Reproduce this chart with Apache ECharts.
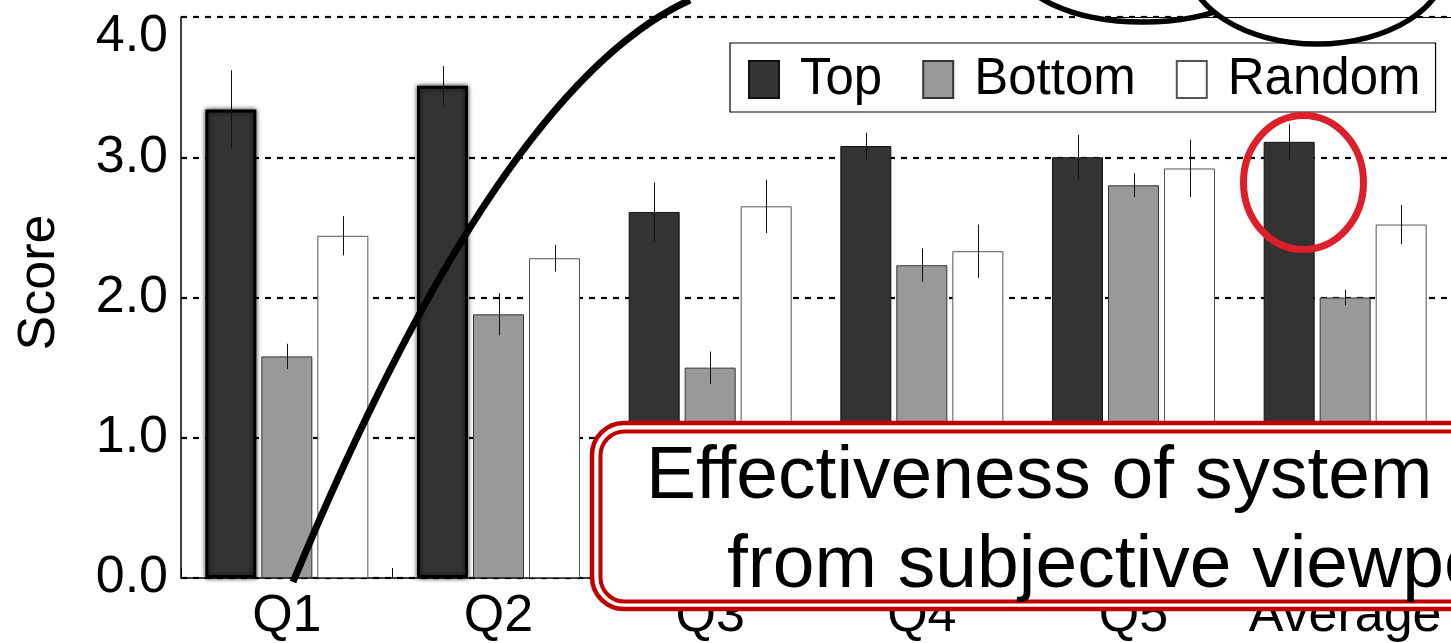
<!DOCTYPE html>
<html>
<head>
<meta charset="utf-8">
<script src="https://cdn.jsdelivr.net/npm/echarts@6/dist/echarts.min.js"></script>
<style>
  html, body { margin: 0; padding: 0; background: #fff; }
  #chart { width: 1451px; height: 643px; }
</style>
</head>
<body>
<div id="chart"></div>
<script>
// Questionnaire scores per question, three groups, with error bars
const categories = ['Q1', 'Q2', 'Q3', 'Q4', 'Q5', 'Average'];
const seriesNames = ['Top', 'Bottom', 'Random'];
const topScores    = [3.34, 3.51, 2.61, 3.08, 3.00, 3.11];
const topErr       = [0.28, 0.14, 0.21, 0.095, 0.16, 0.125];
const bottomScores = [1.58, 1.88, 1.50, 2.23, 2.80, 2.00];
const bottomErr    = [0.09, 0.15, 0.115, 0.12, 0.085, 0.056];
const randomScores = [2.44, 2.28, 2.65, 2.33, 2.92, 2.52];
const randomErr    = [0.14, 0.095, 0.19, 0.19, 0.205, 0.14];
const yTicks = [0, 1, 2, 3, 4];
const boxLines = ['Effectiveness of system', 'from subjective viewpoints'];

const FONT = '"Liberation Sans", Arial, sans-serif';
const BAR_W = 51;
const BAR_SPACING = 56;           // centre-to-centre distance of bars in a group
const BAR_GAP_PCT = ((BAR_SPACING - BAR_W) / BAR_W * 100) + '%';
const HALO_BARS = [0, 1];         // Top bars drawn with a glowing outline

const chart = echarts.init(document.getElementById('chart'), null, { renderer: 'canvas' });

function barSeries(name, values, color, border, haloIdx) {
  return {
    name: name,
    type: 'bar',
    barWidth: BAR_W,
    barGap: BAR_GAP_PCT,
    itemStyle: { color: color, borderColor: border, borderWidth: 1 },
    data: values.map((v, i) => (haloIdx && haloIdx.indexOf(i) >= 0)
      ? { value: v, itemStyle: { borderColor: '#000', borderWidth: 3, shadowBlur: 5, shadowColor: 'rgba(0,0,0,0.75)' } }
      : v),
    z: 2
  };
}

function errSeries(values, errs, slot) {
  return {
    type: 'custom',
    silent: true,
    z: 3,
    data: values.map((v, i) => [i, v, errs[i]]),
    renderItem: function (params, api) {
      const c = api.value(0), v = api.value(1), e = api.value(2);
      const hi = api.coord([c, v + e]);
      const lo = api.coord([c, v - e]);
      const x = Math.round(hi[0] + slot * BAR_SPACING) + 0.5;
      return {
        type: 'line',
        shape: { x1: x, y1: hi[1], x2: x, y2: lo[1] },
        style: { stroke: '#111', lineWidth: 1 }
      };
    }
  };
}

const option = {
  backgroundColor: '#fff',
  animation: false,
  textStyle: { fontFamily: FONT },
  grid: { left: 181, top: 17, width: 1282.5, height: 562, containLabel: false },
  legend: {
    data: seriesNames,
    left: 730, top: 43,
    orient: 'horizontal',
    icon: 'rect',
    itemWidth: 30, itemHeight: 37,
    itemGap: 40,
    padding: [11, 15, 7, 18],
    borderColor: '#000', borderWidth: 1.2,
    backgroundColor: '#fff',
    textStyle: { fontSize: 51, color: '#000', fontFamily: FONT, lineHeight: 38, padding: [0, 0, 0, 16] },
    z: 10
  },
  xAxis: {
    type: 'category',
    data: categories,
    axisLine: { lineStyle: { color: '#000', width: 1.5 } },
    axisTick: { show: true, inside: true, length: 10, lineStyle: { color: '#000', width: 1 } },
    axisLabel: { interval: 0, fontSize: 52, color: '#000', margin: 13, fontFamily: FONT },
    splitLine: { show: false }
  },
  yAxis: {
    type: 'value',
    min: 0, max: 4, interval: 1,
    name: 'Score',
    nameLocation: 'middle',
    nameGap: 115,
    nameTextStyle: { fontSize: 52, color: '#000', fontFamily: FONT, padding: [0, 0, 0, 30] },
    axisLine: { show: true, lineStyle: { color: '#000', width: 1.5 } },
    axisTick: { show: false },
    axisLabel: {
      fontSize: 52, color: '#000', margin: 13, fontFamily: FONT,
      formatter: function (v) {
        const s = v.toFixed(1);
        return v === yTicks[yTicks.length - 1] ? '{top|' + s + '}' : s;
      },
      rich: { top: { fontSize: 52, color: '#000', fontFamily: FONT, padding: [40, 0, 0, 0] } }
    },
    splitLine: { show: true, lineStyle: { color: '#000', width: 2.2, type: [6, 6] } }
  },
  series: [
    barSeries(seriesNames[0], topScores, '#333333', '#111', HALO_BARS),
    barSeries(seriesNames[1], bottomScores, '#999999', '#333', null),
    barSeries(seriesNames[2], randomScores, '#ffffff', '#555', null),
    errSeries(topScores, topErr, -1),
    errSeries(bottomScores, bottomErr, 0),
    errSeries(randomScores, randomErr, 1)
  ],
  graphic: [
    // thought-bubble outlines at the top
    { type: 'ellipse', shape: { cx: 1143, cy: -38, rx: 128, ry: 60 }, style: { fill: 'none', stroke: '#000', lineWidth: 5.5 }, z: 20 },
    { type: 'ellipse', shape: { cx: 1317, cy: -38, rx: 130, ry: 82 }, style: { fill: '#fff', stroke: '#000', lineWidth: 5.5 }, z: 21 },
    { type: 'line', shape: { x1: 1088, y1: 17.5, x2: 1451, y2: 17.5 }, style: { stroke: '#000', lineWidth: 1.2 }, z: 22 },
    // sweeping curve
    { type: 'bezierCurve', shape: { x1: 293, y1: 582, cpx1: 499, cpy1: 87, x2: 690, y2: 0 },
      style: { fill: 'none', stroke: '#000', lineWidth: 7 }, z: 20 },
    // red highlight around the average Top bar
    { type: 'ellipse', shape: { cx: 1303.5, cy: 182.5, rx: 60, ry: 67 }, style: { fill: 'none', stroke: '#dd1f2a', lineWidth: 7 }, z: 20 },
    // double-bordered caption box
    { type: 'rect', shape: { x: 592, y: 423, width: 920, height: 186, r: 32 }, style: { fill: '#fff', stroke: '#c00000', lineWidth: 4.5 }, z: 30 },
    { type: 'rect', shape: { x: 600.5, y: 431.5, width: 900, height: 170, r: 24 }, style: { fill: 'none', stroke: '#c00000', lineWidth: 4 }, z: 31 },
    { type: 'text', x: 646, y: 440, style: { text: boxLines[0], font: '75px ' + FONT, fill: '#000', textAlign: 'left', textVerticalAlign: 'top' }, z: 32 },
    { type: 'text', x: 727, y: 529, style: { text: boxLines[1], font: '75px ' + FONT, fill: '#000', textAlign: 'left', textVerticalAlign: 'top' }, z: 32 }
  ]
};

chart.setOption(option);
</script>
</body>
</html>
